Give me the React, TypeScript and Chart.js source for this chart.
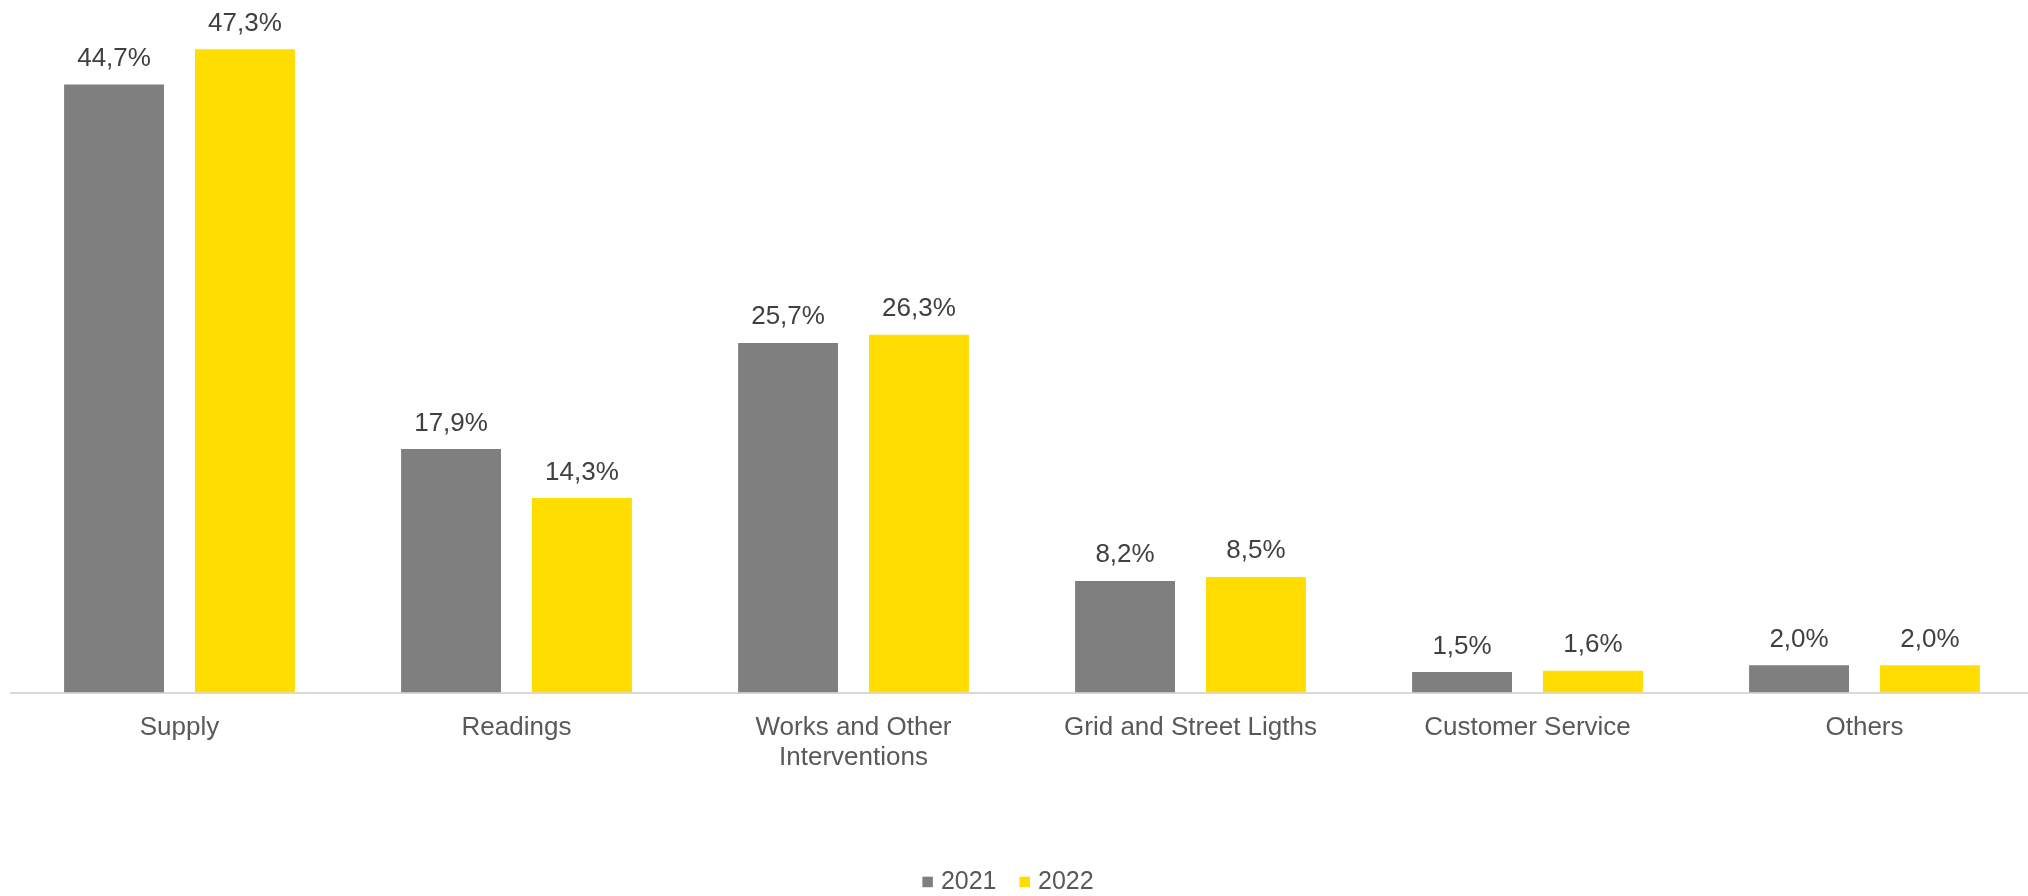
import React, { useEffect, useRef } from "react";
import { Chart, registerables } from "chart.js";

Chart.register(...registerables);

const categories: (string | string[])[] = [
  "Supply",
  "Readings",
  ["Works and Other", "Interventions"],
  "Grid and Street Ligths",
  "Customer Service",
  "Others",
];
const seriesNames = ["2021", "2022"];
const values2021 = [44.7, 17.9, 25.7, 8.2, 1.5, 2.0];
const values2022 = [47.3, 14.3, 26.3, 8.5, 1.6, 2.0];
const seriesColors = ["#7F7F7F", "#FFDD00"];
const yMin = 0;
const yMax = 50;

const FONT = "'Liberation Sans', Arial, sans-serif";

const fmt = (v: number) => v.toFixed(1).replace(".", ",") + "%";

const valueLabels = {
  id: "valueLabels",
  afterDatasetsDraw(chart: any) {
    const ctx = chart.ctx;
    ctx.save();
    ctx.font = `26px ${FONT}`;
    ctx.fillStyle = "#404040";
    ctx.textAlign = "center";
    ctx.textBaseline = "alphabetic";
    chart.data.datasets.forEach((ds: any, i: number) => {
      const meta = chart.getDatasetMeta(i);
      meta.data.forEach((bar: any, j: number) => {
        ctx.fillText(fmt(ds.data[j]), bar.x, bar.y - 18.5);
      });
    });
    ctx.restore();
  },
};

const customLegend = {
  id: "customLegend",
  afterDraw(chart: any) {
    const ctx = chart.ctx;
    ctx.save();
    ctx.font = `25px ${FONT}`;
    const box = 10.5;
    const gap = 8;
    const itemGap = 23;
    const centerX = 1008;
    const baseline = 889;
    const items = chart.data.datasets.map((ds: any) => ({
      text: ds.label,
      color: ds.backgroundColor,
      w: ctx.measureText(ds.label).width,
    }));
    const total =
      items.reduce((s: number, it: any) => s + box + gap + it.w, 0) +
      itemGap * (items.length - 1);
    let x = centerX - total / 2;
    items.forEach((it: any) => {
      ctx.fillStyle = it.color;
      ctx.fillRect(x, baseline - 12.3, box, box);
      x += box + gap;
      ctx.fillStyle = "#595959";
      ctx.textAlign = "left";
      ctx.textBaseline = "alphabetic";
      ctx.fillText(it.text, x, baseline);
      x += it.w + itemGap;
    });
    ctx.restore();
  },
};

export default function App() {
  const canvasRef = useRef<HTMLCanvasElement | null>(null);

  useEffect(() => {
    if (!canvasRef.current) return;
    Chart.defaults.font.family = FONT;
    const chart = new Chart(canvasRef.current, {
      type: "bar",
      data: {
        labels: categories as any,
        datasets: [
          {
            label: seriesNames[0],
            data: values2021,
            backgroundColor: seriesColors[0],
            categoryPercentage: 0.777,
            barPercentage: 0.763,
          },
          {
            label: seriesNames[1],
            data: values2022,
            backgroundColor: seriesColors[1],
            categoryPercentage: 0.777,
            barPercentage: 0.763,
          },
        ],
      },
      options: {
        responsive: false,
        animation: false,
        devicePixelRatio: 1,
        layout: { padding: { left: 11, right: 11, top: 12.5, bottom: 111.7 } },
        plugins: {
          legend: { display: false },
          tooltip: { enabled: false },
        },
        scales: {
          x: {
            grid: { display: false },
            border: { display: true, color: "#D9D9D9", width: 2 },
            ticks: {
              color: "#595959",
              font: { size: 26, lineHeight: 1.15 },
              padding: 12,
              maxRotation: 0,
              autoSkip: false,
            },
          },
          y: { display: false, min: yMin, max: yMax },
        },
      },
      plugins: [valueLabels, customLegend],
    });
    return () => chart.destroy();
  }, []);

  return (
    <div
      style={{
        position: "fixed",
        left: 0,
        top: 0,
        width: 2028,
        height: 896,
        overflow: "hidden",
        background: "#FFFFFF",
      }}
    >
      <canvas ref={canvasRef} width={2044} height={896} />
    </div>
  );
}
